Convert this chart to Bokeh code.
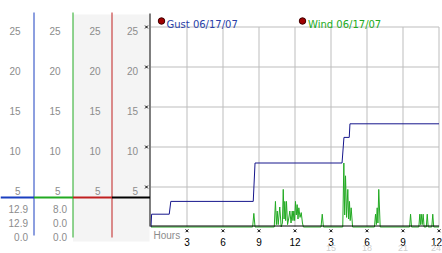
from bokeh.plotting import figure
from bokeh.models import Range1d
from bokeh.core.properties import value
from bokeh.embed import file_html
from bokeh.resources import INLINE

# ---------------- data ----------------
gust_hours = [0.0, 0.05, 1.52, 1.65, 8.52, 8.67, 15.92, 16.08, 16.52, 16.58, 24.0]
gust_mph = [0.0, 1.6, 1.6, 3.2, 3.2, 8.0, 8.0, 11.2, 11.2, 12.9, 12.9]

wind_hours = [0.0,
              8.47, 8.57, 8.67,
              10.27, 10.37, 10.45, 10.52, 10.6, 10.73, 10.85, 10.95, 11.02, 11.09, 11.15,
              11.22, 11.29, 11.38, 11.47, 11.57, 11.67, 11.77, 11.83, 11.9, 11.97, 12.04,
              12.11, 12.18, 12.25, 12.32, 12.42, 12.52, 12.62, 12.7,
              14.17, 14.27, 14.37,
              15.98, 16.07, 16.14, 16.21, 16.3, 16.4, 16.47, 16.54, 16.6, 16.68, 16.8,
              18.62, 18.71, 18.78, 18.85, 18.91, 18.98, 19.1,
              21.55, 21.63, 21.71,
              22.32, 22.4, 22.46, 22.52, 22.6, 22.68, 22.76,
              22.94, 23.02, 23.1,
              23.4, 23.48, 23.56,
              24.0]
wind_mph = [0.0,
            0.0, 1.7, 0.0,
            0.0, 3.2, 0.3, 2.0, 0.3, 2.5, 0.0, 0.5, 4.7, 1.0, 3.2,
            0.8, 3.2, 0.3, 1.0, 2.0, 0.5, 2.0, 0.8, 2.0, 0.8, 3.2,
            1.5, 2.8, 1.0, 2.4, 1.2, 1.8, 0.5, 0.0,
            0.0, 1.6, 0.0,
            0.0, 8.0, 1.5, 6.4, 1.2, 4.7, 1.0, 3.2, 0.8, 2.4, 0.0,
            0.0, 1.6, 0.3, 2.4, 0.5, 4.7, 0.0,
            0.0, 1.6, 0.0,
            0.0, 1.6, 0.3, 1.6, 0.3, 1.6, 0.0,
            0.0, 1.6, 0.0,
            0.0, 1.6, 0.0,
            0.0]

hour_ticks = [3, 6, 9, 12, 15, 18, 21, 24]
hour_labels = ["3", "6", "9", "12", "3", "6", "9", "12"]
day_ticks = [15, 18, 21, 24]
day_labels = ["15", "18", "21", "24"]
mph_ticks = [5, 10, 15, 20, 25]
mph_labels = ["5", "10", "15", "20", "25"]
gust_readout = ["12.9", "12.9", "0.0"]
wind_readout = ["8.0", "0.0", "0.0"]
legend_labels = ["Gust 06/17/07", "Wind 06/17/07"]
x_label = "Hours"

# ---------------- layout helpers (pixel -> data) ----------------
W, H = 442, 253
X0, XS = 150.5, 12.0   # pixel of hour 0, pixels per hour
Y0, YS = 226.5, 8.0    # pixel row of 0 mph, pixels per mph


def hx(px):
    return (px - X0) / XS


def vy(py):
    return (Y0 - py) / YS


p = figure(width=W, height=H, x_range=Range1d(hx(0), hx(W)), y_range=Range1d(vy(H), vy(0)),
           output_backend="svg", toolbar_location=None, min_border=0,
           x_axis_location=None, y_axis_location=None)
p.grid.visible = False
p.outline_line_color = None
p.background_fill_color = "white"
p.border_fill_color = "white"

FONT = value("Liberation Sans")
LFONT = value("DejaVu Sans")
GRAY_TXT = "#8c8c8c"
BLUE = "#1a3fc0"
GREEN = "#22aa22"
RED = "#c02020"
NAVY = "#16168c"

# shaded columns of the left panel
p.quad(left=hx(72.5), right=hx(149), top=vy(14), bottom=vy(241),
       fill_color="#f4f4f4", line_color=None)

# grid
top = mph_ticks[-1]
end = hour_ticks[-1]
p.segment(x0=hour_ticks, y0=[0] * len(hour_ticks), x1=hour_ticks, y1=[top] * len(hour_ticks),
          line_color="#bdbdbd", line_width=1)
p.segment(x0=[0] * len(mph_ticks), y0=mph_ticks, x1=[end] * len(mph_ticks), y1=mph_ticks,
          line_color="#bdbdbd", line_width=1)

# series
p.line(wind_hours, wind_mph, line_color=GREEN, line_width=1)
p.line(gust_hours, gust_mph, line_color=NAVY, line_width=1)

# axes lines
p.segment(x0=[hx(149.5)], y0=[vy(13)], x1=[hx(149.5)], y1=[vy(226)], line_color="black", line_width=1)
p.segment(x0=[0], y0=[vy(225.5)], x1=[end], y1=[vy(225.5)], line_color="black", line_width=1)

# left panel column lines
col_lines = [33.5, 72.5, 111.5]
col_bottoms = [235, 237, 237]
col_colors = [BLUE, GREEN, RED]
p.segment(x0=[hx(c) for c in col_lines], y0=[vy(12)] * 3,
          x1=[hx(c) for c in col_lines], y1=[vy(b) for b in col_bottoms],
          line_color=col_colors, line_width=1)
sep_left = [0, 33.5, 72.5, 111.5]
sep_right = [33.5, 72.5, 111.5, 149.5]
p.segment(x0=[hx(a) for a in sep_left], y0=[vy(197)] * 4,
          x1=[hx(b) for b in sep_right], y1=[vy(197)] * 4,
          line_color=[BLUE, GREEN, RED, "black"], line_width=2)

# column scale labels
for right_px in [20, 60, 100, 137.5]:
    p.text(x=[hx(right_px)] * len(mph_ticks), y=[t - 3.6 / YS for t in mph_ticks], text=mph_labels,
           text_align="right", text_baseline="alphabetic", text_color=GRAY_TXT,
           text_font=FONT, text_font_size="10px")

# readouts
rows = [208.5, 222, 236]
p.text(x=[hx(27.5)] * 3, y=[vy(r) for r in rows], text=gust_readout, text_align="right",
       text_baseline="alphabetic", text_color=GRAY_TXT, text_font=FONT, text_font_size="10px")
p.text(x=[hx(66.5)] * 3, y=[vy(r) for r in rows], text=wind_readout, text_align="right",
       text_baseline="alphabetic", text_color=GRAY_TXT, text_font=FONT, text_font_size="10px")

# tick markers
p.scatter(x=[hx(146)] * len(mph_ticks), y=mph_ticks, marker="x", size=4, line_color="black", line_width=1)
p.scatter(x=hour_ticks, y=[vy(230.3)] * len(hour_ticks), marker="x", size=4, line_color="black", line_width=1)

# x labels (the last one kept inside the picture's right edge)
p.text(x=hour_ticks[:-1], y=[vy(241.5)] * (len(hour_ticks) - 1), text=hour_labels[:-1], text_align="center",
       text_baseline="alphabetic", text_color="black", text_font=FONT, text_font_size="10px")
p.text(x=[hx(441.5)], y=[vy(241.5)], text=hour_labels[-1:], text_align="right",
       text_baseline="alphabetic", text_color="black", text_font=FONT, text_font_size="10px")
p.text(x=day_ticks[:-1], y=[vy(247.5)] * (len(day_ticks) - 1), text=day_labels[:-1], text_align="center",
       text_baseline="alphabetic", text_color="#cfcfcf", text_font=FONT, text_font_size="9px")
p.text(x=[hx(440.5)], y=[vy(247.5)], text=day_labels[-1:], text_align="right",
       text_baseline="alphabetic", text_color="#cfcfcf", text_font=FONT, text_font_size="9px")
p.text(x=[hx(153)], y=[vy(235)], text=[x_label], text_align="left",
       text_baseline="alphabetic", text_color=GRAY_TXT, text_font=FONT, text_font_size="10px")

# legend
p.scatter(x=[hx(161), hx(302)], y=[vy(20.5)] * 2, marker="circle", size=6.5,
          fill_color="#a00000", line_color="#400000", line_width=1)
p.text(x=[hx(166), hx(307.5)], y=[vy(24.3)] * 2, text=legend_labels, text_align="left",
       text_baseline="alphabetic", text_color=["#2a3fa8", GREEN], text_font=LFONT,
       text_font_size="10px")

open("out.html", "w").write(file_html(p, INLINE))
